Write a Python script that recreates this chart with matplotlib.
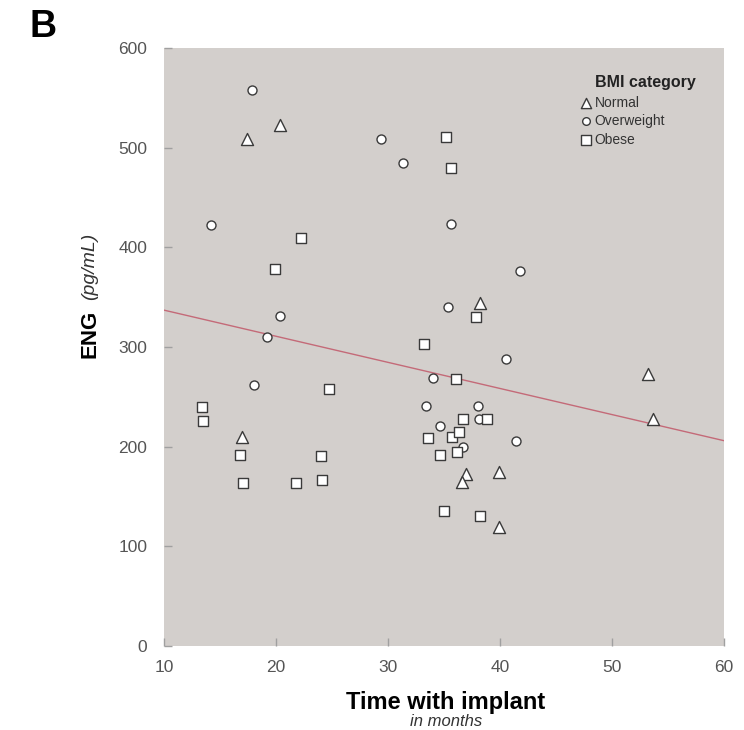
import matplotlib
matplotlib.use("Agg")
import matplotlib.pyplot as plt
import numpy as np

plt.rcParams['font.family'] = ['Liberation Sans', 'DejaVu Sans']

# BMI category: Normal
normal_x = [17.4, 20.4, 17.0, 38.2, 53.2, 53.7, 37.0, 36.6, 39.9, 39.9]
normal_y = [509, 523, 210, 344, 273, 228, 173, 165, 175, 119]

# BMI category: Overweight
over_x = [17.9, 29.4, 31.3, 14.2, 35.6, 41.8, 35.4, 20.4, 19.2, 18.0,
          34.0, 40.5, 33.4, 34.6, 38.0, 38.1, 36.7, 41.4]
over_y = [558, 509, 485, 422, 423, 376, 340, 331, 310, 262,
          269, 288, 241, 221, 241, 228, 200, 206]

# BMI category: Obese
obese_x = [35.2, 35.6, 22.2, 19.9, 37.9, 33.2, 36.1, 24.7, 13.4, 13.5,
           33.6, 35.7, 34.6, 16.8, 24.0, 17.1, 21.8, 24.1, 35.0, 36.7,
           38.8, 36.3, 36.2, 38.2]
obese_y = [511, 480, 409, 378, 330, 303, 268, 258, 240, 226,
           209, 210, 192, 192, 191, 164, 164, 167, 135, 228,
           228, 215, 195, 130]

# regression line end points
fit_x = [10, 60]
fit_y = [337, 206]

x_ticks = [10, 20, 30, 40, 50, 60]
y_ticks = [0, 100, 200, 300, 400, 500, 600]

fig = plt.figure(figsize=(7.44, 7.30), dpi=100)
ax = fig.add_axes([0.2204, 0.1151, 0.7527, 0.8191])
ax.set_facecolor('#d3cfcc')
for s in ax.spines.values():
    s.set_visible(False)

ax.plot(fit_x, fit_y, color='#c46a78', linewidth=1.0, zorder=2)

edge = '#3a3a3a'
ax.scatter(normal_x, normal_y, marker='^', s=75, facecolor='white',
           edgecolor=edge, linewidth=1.0, zorder=3, label='Normal')
ax.scatter(over_x, over_y, marker='o', s=42, facecolor='white',
           edgecolor=edge, linewidth=1.0, zorder=3, label='Overweight')
ax.scatter(obese_x, obese_y, marker='s', s=62, facecolor='white',
           edgecolor=edge, linewidth=1.0, zorder=3, label='Obese')

ax.set_xlim(10, 60)
ax.set_ylim(0, 600)
ax.set_xticks(x_ticks)
ax.set_yticks(y_ticks)
ax.tick_params(axis='both', direction='in', length=6, width=1,
               color='#a0a0a0', labelcolor='#555555', labelsize=12.5)
ax.tick_params(axis='y', pad=12)
ax.tick_params(axis='x', pad=10)

# legend without title, title added as text so it lines up with labels
leg = ax.legend(loc='upper left', bbox_to_anchor=(0.728, 0.932),
                frameon=False, fontsize=10, borderpad=0,
                handletextpad=0.15, labelspacing=0.32, handlelength=1.0,
                markerscale=0.85)
for t in leg.get_texts():
    t.set_color('#333333')
ax.text(0.770, 0.943, 'BMI category', transform=ax.transAxes,
        ha='left', va='center', fontsize=11.5, fontweight='bold',
        color='#222222')

fig.text(90 / 744, 1 - 334 / 730, 'ENG', rotation=90, ha='center',
         va='center', fontsize=16, fontweight='bold')
fig.text(90 / 744, 1 - 266 / 730, '(pg/mL)', rotation=90, ha='center',
         va='center', fontsize=14, fontstyle='italic', color='#333333')

fig.text(446 / 744, 1 - 702 / 730, 'Time with implant', ha='center',
         va='center', fontsize=17, fontweight='bold')
fig.text(446 / 744, 1 - 721 / 730, 'in months', ha='center',
         va='center', fontsize=12, fontstyle='italic', color='#333333')

fig.text(30 / 744, 1 - 27 / 730, 'B', ha='left', va='center',
         fontsize=27, fontweight='bold')

fig.savefig('out.png', dpi=100)
